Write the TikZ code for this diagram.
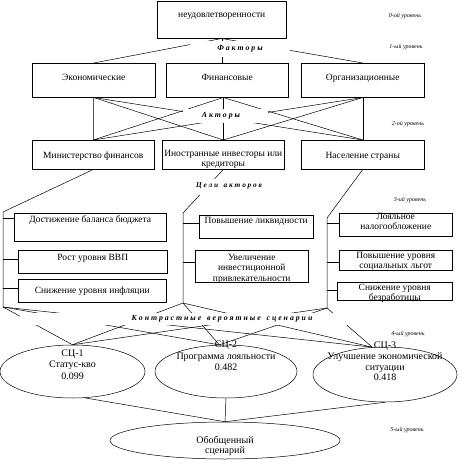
\documentclass[tikz,border=0pt]{standalone}
\usepackage{fontspec}
\setmainfont{Liberation Serif}
\usetikzlibrary{shapes.geometric,calc}
\newcommand\tb[4]{\parbox[t][#2pt][t]{#1pt}{\centering\rule{0pt}{#3pt}#4}}
\begin{document}
\begin{tikzpicture}[x=1pt,y=-1pt,
  box/.style={draw, line width=0.5pt, inner sep=0pt, anchor=north west, font=\fontsize{9.5}{10.5}\selectfont},
  lab/.style={fill=white, inner sep=0pt, font=\fontsize{7.8}{8}\selectfont\bfseries\itshape},
  lvl/.style={inner sep=0pt, font=\fontsize{6}{7}\selectfont\itshape},
  ell/.style={draw, line width=0.5pt, ellipse, inner sep=0pt},
  sct/.style={inner sep=0pt, align=center, anchor=north, font=\fontsize{10}{11.5}\selectfont},
  con/.style={line width=0.5pt}]
\useasboundingbox (0,0) rectangle (460,468);
% boxes
\node[box] (top) at (157,1) {\tb{129}{37}{16}{неудовлетворенности}};
\node[box] (ek) at (32,63) {\tb{123}{34}{17}{Экономические}};
\node[box] (fin) at (166,63) {\tb{122}{34}{17}{Финансовые}};
\node[box] (org) at (301,63) {\tb{123}{34}{17}{Организационные}};
\node[box] (min) at (32,140) {\tb{122}{29}{18}{Министерство финансов}};
\node[box] (inv) at (162,140) {\tb{122}{29}{16}{Иностранные инвесторы или\\кредиторы}};
\node[box] (nas) at (301,140) {\tb{123}{29}{18}{Население страны}};
\node[box] (g1) at (14,213) {\tb{152}{28}{9}{Достижение баланса бюджета}};
\node[box] (g2) at (18,250) {\tb{149}{23}{10}{Рост уровня ВВП}};
\node[box] (g3) at (18,279) {\tb{148}{23}{14}{Снижение уровня инфляции}};
\node[box] (m1) at (199,215) {\tb{114}{23}{8}{Повышение ликвидности}};
\node[box] (m2) at (195,250) {\tb{113}{32}{10}{Увеличение\\инвестиционной\\привлекательности}};
\node[box] (r1) at (339,213) {\tb{113}{23}{6}{Лояльное\\налогообложение}};
\node[box] (r2) at (339,250) {\tb{113}{20}{8}{Повышение уровня\\социальных льгот}};
\node[box] (r3) at (337,282) {\tb{115}{18}{8}{Снижение уровня\\безработицы}};
% ellipses
\node[ell, minimum width=145pt, minimum height=53pt] (sc1) at (72.5,371.5) {};
\node[ell, minimum width=142pt, minimum height=53pt] (sc2) at (226,371.5) {};
\node[ell, minimum width=144pt, minimum height=55pt] (sc3) at (385,374.5) {};
\node[ell, minimum width=230pt, minimum height=37pt] (gen) at (225,440.5) {};
\node[sct] (t1) at (72.5,349.5) {СЦ-1\\Статус-кво\\0.099};
\node[sct, font=\fontsize{10}{11.3}\selectfont] (t2) at (226,341) {СЦ-2\\Программа лояльности\\0.482};
\node[sct, font=\fontsize{10}{10.6}\selectfont] (t3) at (385,342) {СЦ-3\\Улучшение экономической\\ситуации\\0.418};
\node[sct, font=\fontsize{10}{10.5}\selectfont] (t4) at (225,436) {Обобщенный\\сценарий};
% coordinates
\coordinate (fb) at (inv.north |- fin.south);
\coordinate (lt) at (3,212);
\coordinate (lb) at (3,307);
\coordinate (mt) at (183,213);
\coordinate (mb) at (183,303);
\coordinate (rt) at (327,218);
\coordinate (rb) at (327,308);
% level 0-1
\draw[con] (top.south) -- (ek.north);
\draw[con] (top.south) -- (top.south |- fin.north);
\draw[con] (top.south) -- (org.north);
% level 1-2
\draw[con] (ek.south) -- (min.north);
\draw[con] (ek.south) -- (inv.north);
\draw[con] (ek.south) -- (nas.north);
\draw[con] (fb) -- (min.north);
\draw[con] (fb) -- (inv.north);
\draw[con] (fb) -- (nas.north);
\draw[con] (org.south) -- (min.north);
\draw[con] (org.south) -- (inv.north);
\draw[con] (org.south) -- (nas.north);
% level 2-3
\draw[con] (min.south) -- (lt) -- (lb);
\draw[con] (inv.south) -- (mt) -- (mb);
\draw[con] (nas.south) -- (rt) -- (rb);
\draw[con] ([yshift=-5pt]g1.north west) -- ([yshift=-5pt]g1.north west -| lt);
\draw[con] ([yshift=-9pt]g2.north west) -- ([yshift=-9pt]g2.north west -| lt);
\draw[con] ([yshift=-9pt]g3.north west) -- ([yshift=-9pt]g3.north west -| lt);
\draw[con] ([yshift=-8pt]m1.north west) -- ([yshift=-8pt]m1.north west -| mt);
\draw[con] ([yshift=-12pt]m2.north west) -- ([yshift=-12pt]m2.north west -| mt);
\draw[con] ([yshift=-10pt]r1.north west) -- ([yshift=-10pt]r1.north west -| rt);
\draw[con] ([yshift=-12pt]r2.north west) -- ([yshift=-12pt]r2.north west -| rt);
\draw[con] ([yshift=-8pt]r3.north west) -- ([yshift=-8pt]r3.north west -| rt);
% level 3-4
\foreach \b in {lb,mb,rb}{
  \draw[con] (\b) -- (sc1.north);
  \draw[con] (\b) -- (sc2.104);
  \draw[con] (\b) -- (sc3.115);
}
% level 4-5
\draw[con] (sc1.295) -- (gen.north);
\draw[con] (sc2.south) -- (gen.north);
\draw[con] (sc3.south) -- (gen.north);
% labels
\node[lab, minimum width=100pt, minimum height=16pt] (fak) at (240,49) {Ф\ а\ к\ т\ о\ р\ ы};
\node[lab, minimum width=85pt, minimum height=14pt] (akt) at (225,116) {\hspace*{-8pt}А\ к\ т\ о\ р\ ы};
\node[lab, minimum width=92pt, minimum height=16pt, font=\fontsize{7.3}{8}\selectfont\bfseries\itshape] (cel) at (229,187) {\raisebox{3pt}{Ц е л и \ \ а к т о р о в}};
\node[lab, minimum width=380pt, minimum height=12pt] (kon) at (210,319) {\hspace*{24pt}К\ о\ н\ т\ р\ а\ с\ т\ н\ ы\ е \ \ в\ е\ р\ о\ я\ т\ н\ ы\ е \ \ с\ ц\ е\ н\ а\ р\ и\ и};
% level labels
\node[lvl] (l0) at (405,16) {0-ой уровень};
\node[lvl] (l1) at (406,47) {1-ый уровень};
\node[lvl] (l2) at (408,124) {2-ой уровень};
\node[lvl] (l3) at (410,200) {3-ий уровень};
\node[lvl] (l4) at (408,334) {4-ый уровень};
\node[lvl] (l5) at (407,430) {5-ый уровень};
\end{tikzpicture}
\end{document}
